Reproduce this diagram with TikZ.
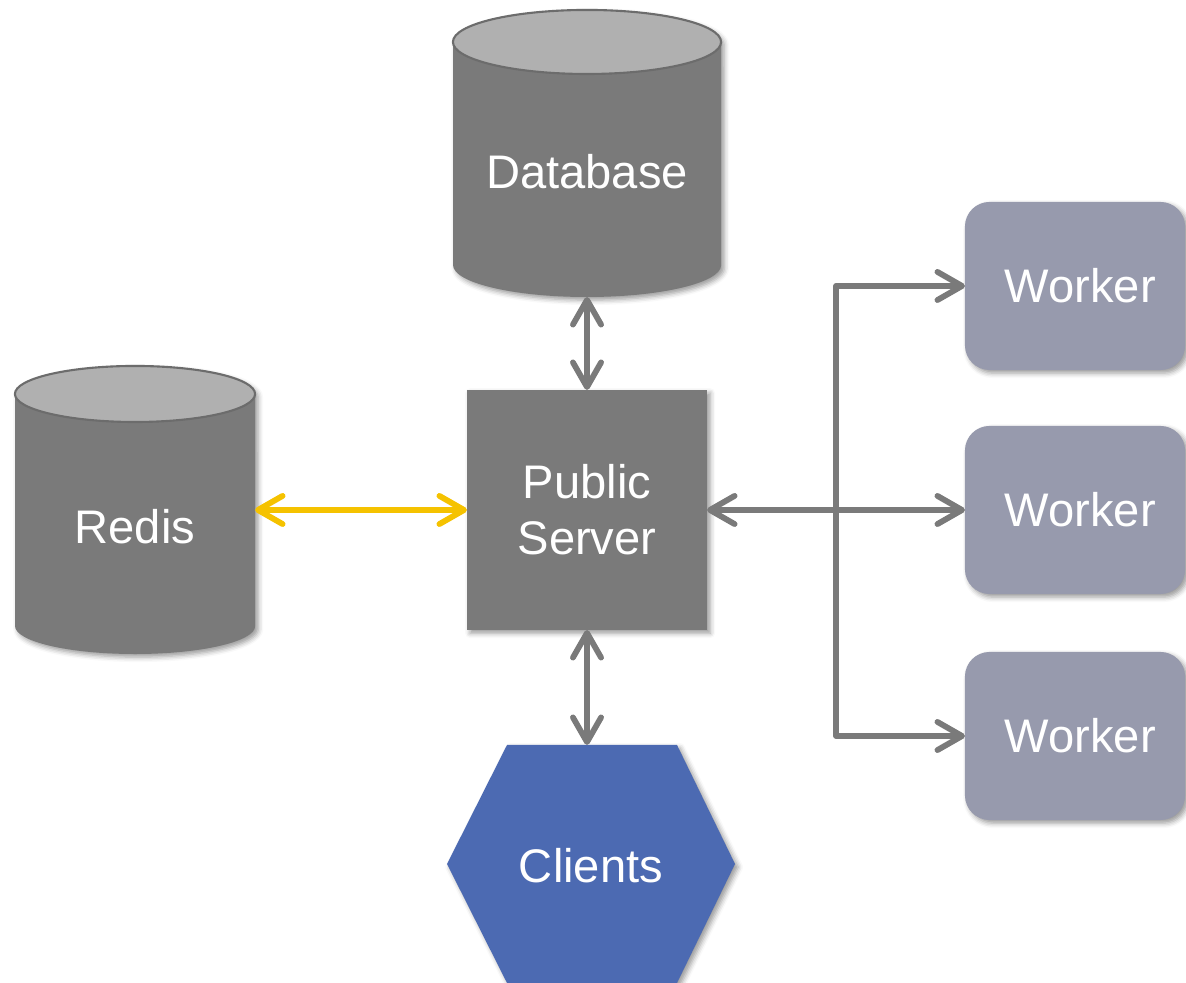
\documentclass[tikz,border=0pt]{standalone}
\usepackage{fontspec}
\setmainfont{Liberation Sans}
\usetikzlibrary{arrows.meta,shadows.blur}

\definecolor{shapegray}{HTML}{7A7A7A}
\definecolor{capgray}{HTML}{B0B0B0}
\definecolor{rimgray}{HTML}{6C6C6C}
\definecolor{linkgray}{HTML}{7A7A7A}
\definecolor{cacheyellow}{HTML}{F5C200}
\definecolor{workerslate}{HTML}{979AAD}
\definecolor{clientblue}{HTML}{4C6AB2}

\begin{document}
\begin{tikzpicture}[x=0.01cm,y=0.01cm,
  soft/.style={blur shadow={shadow xshift=0.9pt,shadow yshift=-0.9pt,
      shadow blur radius=1.4pt,shadow opacity=40}},
  labeltext/.style={text=white,font=\fontsize{13.4}{16}\selectfont,align=center},
  frame/.style={inner sep=0pt,outer sep=0pt},
  worker/.style={frame,labeltext,fill=workerslate,rounded corners=7pt,
      minimum width=2.2cm,minimum height=1.68cm,soft},
  link/.style={line width=1.65pt,draw=linkgray,line join=round,
      >={Straight Barb[length=7pt,width=8pt,round]},<->},
  cachelink/.style={link,draw=cacheyellow}]

\useasboundingbox (0,0) rectangle (1186,983);

% --- Database cylinder ---
\node[frame,minimum width=2.68cm,minimum height=2.87cm] (db) at (587,829.5) {};
\fill[shapegray,soft] (453,941) -- (453,718)
  arc[start angle=180,end angle=360,x radius=1.34cm,y radius=0.32cm]
  -- (721,941)
  arc[start angle=0,end angle=180,x radius=1.34cm,y radius=0.32cm] -- cycle;
\filldraw[fill=capgray,draw=rimgray,line width=0.6pt]
  (587,941) ellipse[x radius=1.34cm,y radius=0.32cm];
\node[labeltext] (dbname) at (587,811) {Database};

% --- Redis cylinder ---
\node[frame,minimum width=2.4cm,minimum height=2.88cm] (redis) at (135,473) {};
\fill[shapegray,soft] (15,589) -- (15,357)
  arc[start angle=180,end angle=360,x radius=1.2cm,y radius=0.28cm]
  -- (255,589)
  arc[start angle=0,end angle=180,x radius=1.2cm,y radius=0.28cm] -- cycle;
\filldraw[fill=capgray,draw=rimgray,line width=0.6pt]
  (135,589) ellipse[x radius=1.2cm,y radius=0.28cm];
\node[labeltext] (redisname) at (135,456) {Redis};

% --- Public server ---
\node[frame,labeltext,fill=shapegray,minimum size=2.4cm,soft] (srv) at (587,473)
  {Public\\Server};

% --- Workers ---
\node[worker] (w1) at (1075,697) {\hspace{3pt}Worker};
\node[worker] (w2) at (1075,473) {\hspace{3pt}Worker};
\node[worker] (w3) at (1075,247) {\hspace{3pt}Worker};

% --- Clients hexagon ---
\node[frame,minimum width=2.88cm,minimum height=2.38cm] (clients) at (591,119) {};
\fill[clientblue,soft] (507,238) -- (677,238) -- (735,119) -- (677,0)
  -- (507,0) -- (447,119) -- cycle;
\node[labeltext] (clientsname) at (591,117) {Clients};

% --- Connections ---
\coordinate (bus) at (836,473);
\draw[link] (db.south) -- (srv.north);
\draw[link] (srv.south) -- (srv.south |- clients.north);
\draw[cachelink] (redis.east) -- (srv.west);
\draw[link] (srv.east) -- (w2.west);
\draw[link] (w1.west) -| (bus) |- (w3.west);

\end{tikzpicture}
\end{document}
